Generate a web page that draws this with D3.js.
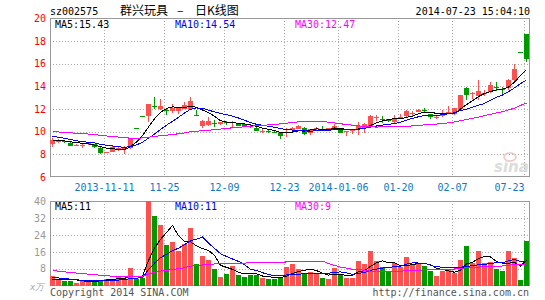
<!DOCTYPE html>
<html>
<head>
<meta charset="utf-8">
<script src="https://cdn.jsdelivr.net/npm/d3@7"></script>
<style>
  body { margin: 0; background: #fff; }
  svg text { font-family: "DejaVu Sans Mono", monospace; font-size: 10px; }
</style>
</head>
<body>
<svg id="chart" width="545" height="300"></svg>
<script>
// daily candles, 2013-10-29 .. 2014-07-23 (80 trading days)
const opens  = [8.95,9.10,9.15,9.02,8.80,8.80,8.90,8.90,8.60,8.15,8.25,8.38,8.50,8.55,10.31,11.35,11.40,12.30,12.05,11.95,
                11.80,11.85,12.05,12.05,11.50,10.47,10.62,10.76,10.64,10.82,10.78,10.75,10.66,10.47,10.35,10.03,10.03,9.97,9.90,9.85,
                10.14,10.23,10.37,9.90,10.20,10.28,10.22,10.28,10.22,10.02,10.10,10.20,10.37,10.43,11.22,11.12,11.10,10.87,11.28,11.37,
                11.64,11.75,11.90,11.55,11.30,11.40,11.70,11.60,12.05,13.89,13.40,13.19,13.35,13.50,13.96,13.80,13.84,14.55,17.05,18.60];
const highs  = [9.45,9.40,9.25,9.08,8.90,8.90,9.05,8.95,8.65,8.22,8.75,8.72,8.70,9.45,10.31,11.35,12.49,13.07,12.90,12.10,
                12.45,12.20,12.65,13.08,11.90,11.03,11.32,11.00,10.86,10.93,10.93,10.80,10.70,10.58,10.40,10.25,10.15,10.05,9.92,10.29,
                10.40,10.55,10.40,10.22,10.40,10.50,10.33,10.66,10.25,10.10,10.28,10.84,10.78,11.52,11.45,11.37,11.14,11.45,11.55,11.96,
                11.84,12.00,12.10,11.58,11.52,11.90,12.25,12.10,13.25,13.95,13.50,14.54,13.66,14.36,14.36,13.95,14.65,16.00,17.05,18.65];
const lows   = [8.68,9.00,9.00,8.70,8.72,8.60,8.85,8.55,8.00,8.10,8.20,8.30,8.00,8.50,10.28,11.33,10.88,12.00,11.95,11.50,
                11.65,11.60,12.00,11.90,11.45,10.30,10.53,10.45,10.60,10.60,10.45,10.50,10.45,10.30,10.05,9.85,9.85,9.85,9.40,9.56,
                10.10,10.20,9.75,9.70,10.15,10.10,10.20,10.20,9.90,9.64,9.80,9.70,9.85,10.35,10.95,10.80,10.90,10.75,11.20,11.30,
                11.37,11.70,11.70,11.08,11.10,11.33,11.55,11.45,12.00,12.84,12.93,12.78,13.14,13.45,13.60,13.37,13.72,14.40,17.03,16.16];
const closes = [9.30,9.28,9.10,8.78,8.85,8.85,9.00,8.65,8.08,8.20,8.62,8.60,8.62,9.38,10.28,11.33,12.49,12.25,12.25,11.90,
                12.12,12.12,12.35,12.73,11.46,10.92,10.97,10.72,10.82,10.78,10.82,10.53,10.50,10.43,10.08,10.06,9.99,9.93,9.65,9.95,
                10.35,10.50,9.80,10.20,10.37,10.25,10.30,10.52,9.93,10.06,10.20,10.49,10.66,11.37,11.26,11.08,10.93,11.16,11.31,11.84,
                11.67,11.96,11.86,11.27,11.33,11.69,11.73,12.07,13.22,13.22,13.44,13.60,13.38,14.10,13.92,13.76,14.60,15.50,17.03,16.45];
// volume, x10k
const volumes = [4.4,3.3,2.2,2.2,1.1,2.2,2.2,2.5,2.8,3.3,3.3,4.3,3.2,8.4,3.2,3.5,41,33.2,28.9,19.3,
                 20.8,16.3,20,27.4,10.1,14,12,7.9,4,5.4,9.2,4.9,4.1,4.9,4.9,3.8,3,3,3.8,8.6,
                 10.1,7.8,5.7,6.5,5.4,3.8,3.3,8.1,5.4,3.8,3.8,11.7,10.3,16.3,11.7,8.7,6.8,10.6,8.6,13.5,
                 9.7,10.8,9.2,6.8,4.4,6.8,7.6,6.0,12,18.9,10.8,16.3,10.8,11.3,7.8,6.8,16.3,13,2.5,21.3];
// sessions before the window, only feed the moving averages
const earlierCloses = [9.9,10.0,10.1,10.0,9.95,10.05,10.1,10.0,9.9,10.05,10.1,10.3,
                       10.5,10.6,10.4,10.55,10.3,10.45,10.35,10.3,
                       10.2,10.0,9.9,9.85,9.7,9.5,9.3,9.2,9.05];
const earlierVolumes = [12,11,10.5,10,11,10,9.5,11,10.5,10.5,
                        5,4.5,4,4.5,4.5,10,9.5,9,9,9,
                        5.5,5,4.8,4.5,4.2,2.6,2.4,2.3,2.3];

const tickIndex = [9, 19, 29, 39, 48, 58, 67, 79];
const tickText = ["2013-11-11", "11-25", "12-09", "12-23", "2014-01-06", "01-20", "02-07", "07-23"];
const priceTicks = [6, 8, 10, 12, 14, 16, 18, 20];
const volumeTicks = [8, 16, 24, 32, 40];
const priceMaText = ["MA5:15.43", "MA10:14.54", "MA30:12.47"];
const volumeMaText = ["MA5:11", "MA10:11", "MA30:9"];
const maPeriods = [5, 10, 30];
const maColors = ["#000", "#0000ff", "#ff00ff"];

const RED = "#ff5050", GREEN = "#009900";

function movingAvg(prior, vals, n) {
  var all = prior.concat(vals);
  return vals.map(function (v, i) {
    var end = prior.length + i + 1;
    return d3.mean(all.slice(end - n, end));
  });
}

var svg = d3.select("#chart");
var x = d3.scaleLinear().domain([0, 80]).range([50, 530]);
var yP = d3.scaleLinear().domain([6, 20]).range([177, 18.5]);
var yV = d3.scaleLinear().domain([0, 40]).range([285.5, 201.5]);
var px = function (v) { return Math.round(v) + 0.5; };

// clip regions
var defs = svg.append("defs");
defs.append("clipPath").attr("id", "clipP").append("rect")
  .attr("x", 50).attr("y", 18).attr("width", 480).attr("height", 159);
defs.append("clipPath").attr("id", "clipV").append("rect")
  .attr("x", 50).attr("y", 201).attr("width", 480).attr("height", 85);

function drawPanel(top, bottom, ticks, yScale) {
  var g = svg.append("g");
  g.selectAll(".hg").data(ticks).join("line")
    .attr("x1", 50).attr("x2", 530)
    .attr("y1", d => px(yScale(d))).attr("y2", d => px(yScale(d)))
    .attr("stroke", "#aaa").attr("stroke-dasharray", "1,2");
  g.selectAll(".vg").data(tickIndex).join("line")
    .attr("x1", d => x(d) + 0.5).attr("x2", d => x(d) + 0.5)
    .attr("y1", top).attr("y2", bottom)
    .attr("stroke", "#aaa").attr("stroke-dasharray", "1,2");
  g.append("rect")
    .attr("x", 50.5).attr("y", top + 0.5)
    .attr("width", 479).attr("height", bottom - top - 1)
    .attr("fill", "none").attr("stroke", "#999");
}

drawPanel(18, 177, priceTicks.slice(1, -1), yP);
drawPanel(201, 286, volumeTicks.slice(0, -1), yV);

// sina watermark
svg.append("ellipse").attr("cx", 510).attr("cy", 157).attr("rx", 6).attr("ry", 4)
  .attr("fill", "none").attr("stroke", "#f4c4c4").attr("stroke-width", 1.5);
svg.append("text").attr("x", 494).attr("y", 172).text("sina")
  .style("font-family", "DejaVu Sans").style("font-style", "italic")
  .style("font-weight", "bold").style("font-size", "15px").attr("fill", "#dcdcdc");

// candles
var cg = svg.append("g").attr("clip-path", "url(#clipP)").attr("shape-rendering", "crispEdges");
var idx = d3.range(closes.length);
var colorOf = i => closes[i] >= opens[i] ? RED : GREEN;
cg.selectAll(".wick").data(idx).join("line")
  .attr("x1", i => x(i) + 2.5).attr("x2", i => x(i) + 2.5)
  .attr("y1", i => yP(highs[i])).attr("y2", i => yP(lows[i]))
  .attr("stroke", colorOf);
cg.selectAll(".body").data(idx).join("rect")
  .attr("x", i => x(i)).attr("width", 5)
  .attr("y", i => yP(Math.max(opens[i], closes[i])))
  .attr("height", i => Math.max(1, Math.abs(yP(opens[i]) - yP(closes[i]))))
  .attr("fill", colorOf);

// volume bars
var vg = svg.append("g").attr("clip-path", "url(#clipV)").attr("shape-rendering", "crispEdges");
vg.selectAll("rect").data(idx).join("rect")
  .attr("x", i => x(i)).attr("width", 5)
  .attr("y", i => yV(volumes[i]))
  .attr("height", i => yV(0) - yV(volumes[i]))
  .attr("fill", colorOf);

// moving averages
function drawMa(g, prior, vals, yScale) {
  maPeriods.forEach(function (n, k) {
    var m = movingAvg(prior, vals, n);
    g.append("path")
      .attr("d", d3.line().x((d, i) => x(i) + 2.5).y(d => yScale(d))(m))
      .attr("fill", "none").attr("stroke", maColors[k]).attr("stroke-width", 1);
  });
}
drawMa(cg, earlierCloses, closes, yP);
drawMa(vg, earlierVolumes, volumes, yV);

// MA value labels
[[priceMaText, 28], [volumeMaText, 210]].forEach(function (row) {
  svg.selectAll(null).data(row[0]).join("text")
    .attr("x", (d, k) => 55 + k * 120).attr("y", row[1])
    .attr("fill", (d, k) => maColors[k]).text(d => d);
});

// axis labels
svg.selectAll(".pl").data(priceTicks).join("text")
  .attr("x", 46).attr("y", d => yP(d) + 3.6).attr("text-anchor", "end")
  .attr("fill", "#f00").text(d => d);
svg.selectAll(".vl").data(volumeTicks).join("text")
  .attr("x", 46).attr("y", d => yV(d) + 3.6).attr("text-anchor", "end")
  .attr("fill", "#999").text(d => d);
svg.append("text").attr("x", 30).attr("y", 290).text("x万")
  .style("font-size", "9px").style("font-style", "italic").attr("fill", "#aaa");
svg.selectAll(".dl").data(tickIndex).join("text")
  .attr("x", d => x(d) + 0.5).attr("y", 191)
  .attr("text-anchor", (d, k) => k == tickIndex.length - 1 ? "end" : "middle")
  .attr("fill", "#0e78c8").text((d, k) => tickText[k]);

// header and footer
svg.append("text").attr("x", 50).attr("y", 14.5).text("sz002575");
var title = svg.append("g").style("font-family", "'Noto Sans CJK SC'").style("font-size", "12px");
title.append("text").attr("x", 120).attr("y", 14.5).style("font-family", "inherit").style("font-size", "inherit").text("群兴玩具");
title.append("text").attr("x", 177).attr("y", 14.5).style("font-family", "inherit").style("font-size", "inherit").text("–");
title.append("text").attr("x", 195).attr("y", 14.5).style("font-family", "inherit").style("font-size", "inherit").text("日K线图");
svg.append("text").attr("x", 530).attr("y", 14.5).attr("text-anchor", "end").text("2014-07-23 15:04:10");
svg.append("text").attr("x", 50).attr("y", 296).attr("fill", "#555").text("Copyright 2014 SINA.COM");
svg.append("text").attr("x", 529).attr("y", 296).attr("text-anchor", "end").attr("fill", "#555").text("http://finance.sina.com.cn");
</script>
</body>
</html>
